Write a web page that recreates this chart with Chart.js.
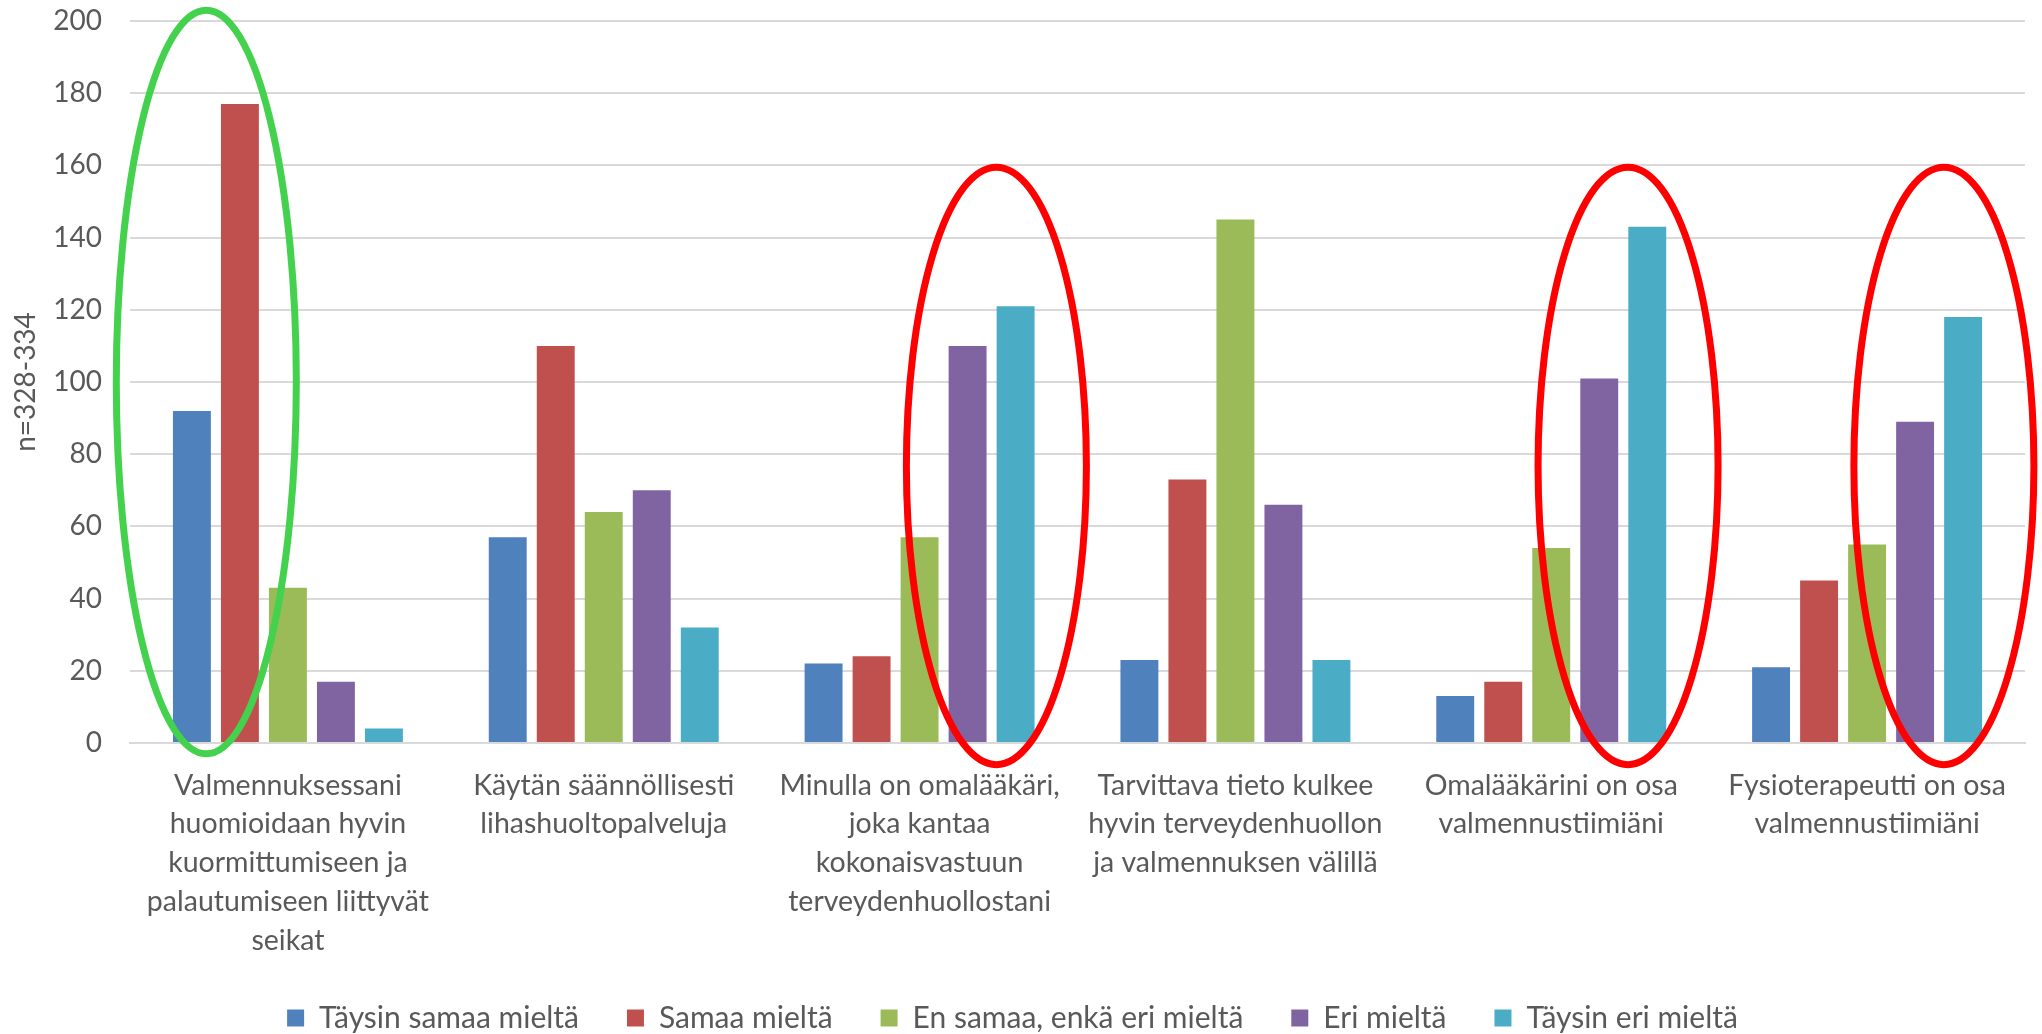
<!DOCTYPE html>
<html>
<head>
<meta charset="utf-8">
<script src="https://cdn.jsdelivr.net/npm/chart.js@4.4.1/dist/chart.umd.min.js"></script>
<style>
  html, body { margin: 0; padding: 0; background: #ffffff; }
  #wrap { width: 2042px; height: 1034px; }
</style>
</head>
<body>
<div id="wrap"><canvas id="chart" width="2042" height="1034"></canvas></div>
<script>
// Categories (multi-line labels as in the original)
const categories = [
  ['Valmennuksessani', 'huomioidaan hyvin', 'kuormittumiseen ja', 'palautumiseen liittyvät', 'seikat'],
  ['Käytän säännöllisesti', 'lihashuoltopalveluja'],
  ['Minulla on omalääkäri,', 'joka kantaa', 'kokonaisvastuun', 'terveydenhuollostani'],
  ['Tarvittava tieto kulkee', 'hyvin terveydenhuollon', 'ja valmennuksen välillä'],
  ['Omalääkärini on osa', 'valmennustiimiäni'],
  ['Fysioterapeutti on osa', 'valmennustiimiäni']
];

const seriesNames = ['Täysin samaa mieltä', 'Samaa mieltä', 'En samaa, enkä eri mieltä', 'Eri mieltä', 'Täysin eri mieltä'];

const taysinSamaa = [92, 57, 22, 23, 13, 21];
const samaa = [177, 110, 24, 73, 17, 45];
const enSamaaEnkaEri = [43, 64, 57, 145, 54, 55];
const eri = [17, 70, 110, 66, 101, 89];
const taysinEri = [4, 32, 121, 23, 143, 118];

const seriesColors = ['#4F81BD', '#C0504D', '#9BBB59', '#8064A2', '#4BACC6'];

// Highlight ellipses: category, datasets they wrap, value range top/bottom
const highlights = [
  { cat: 0, sets: [0, 1], top: 203, bottom: -3, color: '#44D24E', shift: -0.2 },
  { cat: 2, sets: [3, 4], top: 159.5, bottom: -6, color: '#FF0000', shift: 0.1 },
  { cat: 4, sets: [3, 4], top: 159.5, bottom: -6, color: '#FF0000', shift: 0.1 },
  { cat: 5, sets: [3, 4], top: 159.5, bottom: -6, color: '#FF0000', shift: 0.1 }
];

const textColor = '#595959';
const gridColor = '#D9D9D9';
const fontFamily = 'Lato, "Open Sans", sans-serif';

const ellipsePlugin = {
  id: 'ellipses',
  afterDraw(chart) {
    const ctx = chart.ctx;
    const yScale = chart.scales.y;
    const xScale = chart.scales.x;
    const catWidth = xScale.width / categories.length;
    highlights.forEach(h => {
      const a = chart.getDatasetMeta(h.sets[0]).data[h.cat];
      const b = chart.getDatasetMeta(h.sets[1]).data[h.cat];
      const slot = Math.abs(b.x - a.x);
      const cx = (a.x + b.x) / 2 + h.shift * slot;
      const yTop = yScale.getPixelForValue(h.top);
      const yBot = yScale.getPixelForValue(h.bottom);
      ctx.save();
      ctx.beginPath();
      ctx.ellipse(cx, (yTop + yBot) / 2, catWidth * 0.285, (yBot - yTop) / 2, 0, 0, Math.PI * 2);
      ctx.lineWidth = 7;
      ctx.strokeStyle = h.color;
      ctx.stroke();
      ctx.restore();
    });
  }
};

const valueLists = [taysinSamaa, samaa, enSamaaEnkaEri, eri, taysinEri];

const ctx = document.getElementById('chart').getContext('2d');
const chart = new Chart(ctx, {
  type: 'bar',
  data: {
    labels: categories,
    datasets: valueLists.map((vals, i) => ({
      label: seriesNames[i],
      data: vals,
      backgroundColor: seriesColors[i],
      borderWidth: 0,
      categoryPercentage: 0.76,
      barPercentage: 0.79
    }))
  },
  options: {
    responsive: false,
    animation: false,
    layout: {
      padding: { top: 21, right: 17, left: 0, bottom: -9 }
    },
    plugins: {
      legend: {
        position: 'bottom',
        labels: {
          color: textColor,
          font: { family: fontFamily, size: 30 },
          boxWidth: 17,
          boxHeight: 17,
          padding: 48
        }
      },
      tooltip: { enabled: false }
    },
    scales: {
      x: {
        grid: { display: false, drawTicks: false },
        border: { display: true, color: gridColor, width: 2 },
        ticks: {
          color: textColor,
          font: { family: fontFamily, size: 28.5, lineHeight: 1.36 },
          maxRotation: 0,
          autoSkip: false,
          padding: 23
        },
        afterFit(scale) {
          scale.height = 212;
          scale.paddingTop = 0;
          scale.paddingBottom = 0;
        }
      },
      y: {
        min: 0,
        max: 200,
        ticks: {
          stepSize: 20,
          color: textColor,
          font: { family: fontFamily, size: 28 },
          padding: 28
        },
        grid: { color: gridColor, lineWidth: 2, drawTicks: false },
        border: { display: false },
        title: {
          display: true,
          text: 'n=328-334',
          color: textColor,
          font: { family: fontFamily, size: 28 },
          padding: { top: 9, bottom: 0 }
        },
        afterFit(scale) {
          scale.width = 130;
          scale.paddingTop = 0;
          scale.paddingBottom = 0;
        }
      }
    }
  },
  plugins: [ellipsePlugin]
});
</script>
</body>
</html>
